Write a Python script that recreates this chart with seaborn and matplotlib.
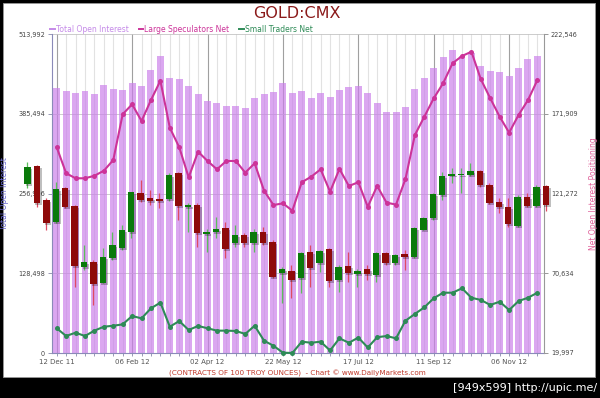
import numpy as np
import pandas as pd
import matplotlib
matplotlib.use("Agg")
import matplotlib.pyplot as plt
import matplotlib.patheffects as pe
from matplotlib.lines import Line2D
from matplotlib.patches import Rectangle
import seaborn as sns

# weekly COT data, one bar per week
tick_labels = ["12 Dec 11", "06 Feb 12", "02 Apr 12", "22 May 12",
               "17 Jul 12", "11 Sep 12", "06 Nov 12"]

open_interest = [426800, 422400, 418700, 422400, 417600, 432100, 425600, 424000, 434800, 430500,
                 456300, 478900, 442900, 441300, 430500, 417100, 406800, 402600, 398200, 398200,
                 394500, 410700, 417100, 421300, 435800, 419700, 422900, 411600, 418700, 413200,
                 424000, 428400, 430500, 419700, 402600, 387800, 387800, 397100, 425200, 442900,
                 460000, 477700, 488500, 478900, 484200, 462700, 455200, 453500, 446600, 459000,
                 473500, 478900]

large_spec = [150700, 134200, 131000, 131000, 132600, 135800, 142600, 171700, 178000, 167400,
              180700, 193000, 163100, 150700, 131600, 147900, 142000, 136700, 142000, 142000,
              134600, 140500, 123100, 114000, 115100, 110400, 128500, 132000, 136700, 122500,
              136900, 126100, 128500, 112900, 126100, 115500, 114300, 130500, 158500, 170100,
              181800, 191400, 204100, 208700, 211400, 193900, 181800, 170100, 160000, 171200,
              180700, 193400]

small_traders = [35700, 30800, 32900, 30800, 34200, 36700, 37300, 38200, 43500, 42000,
                 48400, 52000, 36700, 40300, 34600, 37200, 35700, 34200, 34200, 34000,
                 32100, 37300, 27800, 24600, 20200, 20000, 27200, 26500, 27200, 21600,
                 29300, 26500, 29800, 23500, 30000, 30800, 29300, 40500, 44800, 49000,
                 54800, 58300, 58300, 61100, 55100, 53700, 50500, 52600, 47300, 53000,
                 55100, 58300]

# gold price candles (drawn without an axis of their own)
gold_open = [1767, 1803, 1735, 1691, 1759, 1723, 1601, 1611, 1569, 1619, 1639, 1671, 1749, 1739,
             1737, 1737, 1789, 1721, 1725, 1667, 1671, 1679, 1649, 1665, 1649, 1671, 1651, 1589,
             1594, 1579, 1631, 1609, 1637, 1575, 1603, 1587, 1597, 1585, 1629, 1609, 1627, 1621,
             1675, 1699, 1745, 1784, 1785, 1785, 1793, 1765, 1731, 1721, 1683, 1741, 1723, 1763]
gold_high = [1811, 1805, 1739, 1771, 1761, 1725, 1645, 1615, 1639, 1671, 1685, 1751, 1775, 1755,
             1749, 1789, 1791, 1729, 1729, 1677, 1701, 1691, 1685, 1669, 1677, 1681, 1655, 1601,
             1605, 1631, 1645, 1635, 1639, 1605, 1631, 1597, 1605, 1631, 1631, 1627, 1635, 1681,
             1701, 1749, 1791, 1799, 1799, 1809, 1795, 1769, 1739, 1739, 1745, 1749, 1765, 1765]
gold_low = [1759, 1721, 1675, 1689, 1719, 1561, 1595, 1525, 1569, 1615, 1635, 1659, 1731, 1725,
            1719, 1733, 1695, 1671, 1641, 1631, 1659, 1619, 1641, 1641, 1631, 1645, 1579, 1529,
            1539, 1549, 1561, 1591, 1561, 1551, 1571, 1561, 1575, 1571, 1605, 1605, 1595, 1619,
            1675, 1695, 1735, 1769, 1749, 1783, 1761, 1727, 1709, 1681, 1681, 1721, 1721, 1713]
gold_close = [1801, 1729, 1689, 1757, 1721, 1603, 1611, 1567, 1621, 1645, 1675, 1751, 1735, 1733,
              1733, 1785, 1723, 1725, 1669, 1671, 1677, 1637, 1665, 1649, 1671, 1649, 1581, 1597,
              1575, 1629, 1599, 1633, 1573, 1601, 1589, 1593, 1587, 1629, 1609, 1625, 1621, 1679,
              1699, 1747, 1783, 1786, 1787, 1793, 1765, 1729, 1721, 1687, 1741, 1723, 1761, 1725]

left_ticks = [0, 128498, 256996, 385494, 513992]
right_ticks = [19997, 70634, 121272, 171909, 222546]

C_OI = "#CA7EEA"
C_LS = "#CC3399"
C_ST = "#2E8B57"

plt.rcParams["font.family"] = ["DejaVu Sans"]

n = len(open_interest)
df = pd.DataFrame({"pos": np.arange(n), "oi": open_interest,
                   "ls": large_spec, "st": small_traders})

fig = plt.figure(figsize=(6, 3.98), dpi=100, facecolor="black")
fig.patches.append(Rectangle((3 / 600, 21 / 398), 592 / 600, 374 / 398,
                             transform=fig.transFigure, facecolor="white",
                             edgecolor="#999999", lw=0.6, zorder=-10))

ax = fig.add_axes([52 / 600, 45 / 398, 492 / 600, 318.8 / 398])
ax.set_facecolor("none")
sns.barplot(data=df, x="pos", y="oi", ax=ax, color=C_OI, alpha=0.68,
            saturation=1, width=0.74, zorder=2)
ax.set_xlim(-0.5, 51.7)
ax.set_ylim(0, 513992)
ax.set_xticks(np.arange(0, n, 8))
ax.set_xticklabels(tick_labels)
ax.set_xticks(np.arange(n), minor=True)
ax.set_yticks(left_ticks)
ax.set_yticklabels([f"{v:,}" for v in left_ticks])
ax.set_axisbelow(True)
ax.grid(axis="x", which="minor", color="#e2e2e2", lw=0.8)
ax.grid(axis="x", which="major", color="#a0a0a0", lw=0.8)
ax.grid(axis="y", which="major", color="#c4c4c4", lw=0.6)
ax.set_xlabel("")
ax.set_ylabel("Total Open Interest", color="#6A6AD0", fontsize=5.5)
ax.yaxis.set_label_coords(-0.088, 0.5)
ax.tick_params(axis="x", which="both", length=2.2, width=0.6, color="#8888aa",
               labelsize=5, labelcolor="#555555", pad=2)
ax.tick_params(axis="y", length=3, width=0.6, color="#8888aa", labelsize=4.7,
               labelcolor="#444444", pad=2)
for s in ["top", "right"]:
    ax.spines[s].set_visible(False)
ax.spines["left"].set_color("#8a8ab8")
ax.spines["bottom"].set_color("#8a8ab8")
ax.spines["left"].set_linewidth(0.8)
ax.spines["bottom"].set_linewidth(0.8)

# net positioning lines on the right axis
ax2 = ax.twinx()
sns.lineplot(data=df, x="pos", y="ls", ax=ax2, color=C_LS, lw=1.5, marker="o",
             markersize=3.6, markeredgewidth=0, clip_on=False, zorder=5)
sns.lineplot(data=df, x="pos", y="st", ax=ax2, color=C_ST, lw=1.5, marker="o",
             markersize=3.6, markeredgewidth=0, clip_on=False, zorder=5)
ax2.set_ylim(19997, 222546)
ax2.set_yticks(right_ticks)
ax2.set_yticklabels([f"{v:,}" for v in right_ticks])
ax2.set_ylabel("Net Open Interest Positioning", color="#E0609A", fontsize=5.5)
ax2.yaxis.set_label_coords(1.0915, 0.5)
ax2.tick_params(axis="y", length=3, width=0.6, color="#888888", labelsize=4.7,
                labelcolor="#444444", pad=2)
for s in ["top", "left", "bottom"]:
    ax2.spines[s].set_visible(False)
ax2.spines["right"].set_color("#999999")
ax2.spines["right"].set_linewidth(0.8)

# candles, shifted three weeks to the left as in the source chart
ax3 = ax.twinx()
ax3.set_ylim(1429, 2067)
ax3.set_axis_off()
go = np.array(gold_open)
gc = np.array(gold_close)
up = gc >= go
cpos = np.arange(len(go)) - 3.1
wick_cols = np.where(up, "#5cbf5c", "#e04a62")
body_cols = np.where(up, "#0a7a0a", "#8e0a0a")
ax3.vlines(cpos, gold_low, gold_high, colors=wick_cols, lw=0.9, clip_on=False, zorder=3)
body_h = np.maximum(np.abs(gc - go), 2.5)
body_b = np.minimum(go, gc)
bars = ax3.bar(cpos, body_h, bottom=body_b, width=0.68, color=body_cols,
               edgecolor="none", zorder=4)
for p in bars.patches:
    p.set_clip_on(False)
    p.set_path_effects([pe.SimplePatchShadow(offset=(1.2, -1.2), shadow_rgbFace="k",
                                             alpha=0.25), pe.Normal()])

# title, legend and footer
fig.text(297 / 600, 1 - 14 / 398, "GOLD:CMX", color="#8B1A1A", fontsize=11.5,
         ha="center", va="center")
handles = [Line2D([], [], color="#C58AE8", lw=1.4),
           Line2D([], [], color=C_LS, lw=1.4),
           Line2D([], [], color=C_ST, lw=1.4)]
fig.legend(handles, ["Total Open Interest", "Large Speculators Net", "Small Traders Net"],
           loc="lower left", bbox_to_anchor=(50 / 600, 1 - 34 / 398), ncol=3,
           frameon=False, fontsize=5.5, handlelength=0.6, handletextpad=0.15,
           columnspacing=1.3, labelcolor="linecolor", borderpad=0, borderaxespad=0)
fig.text(297 / 600, 1 - 373 / 398,
         "(CONTRACTS OF 100 TROY OUNCES)  - Chart \u00a9 www.DailyMarkets.com",
         color="#C0392B", fontsize=5.2, ha="center", va="center")
fig.text(597 / 600, 1 - 388 / 398, "[949x599] http://upic.me/", color="white",
         fontsize=8, ha="right", va="center",
         family=["Liberation Sans Narrow", "DejaVu Sans"])

fig.savefig("out.png", dpi=100, facecolor=fig.get_facecolor())
